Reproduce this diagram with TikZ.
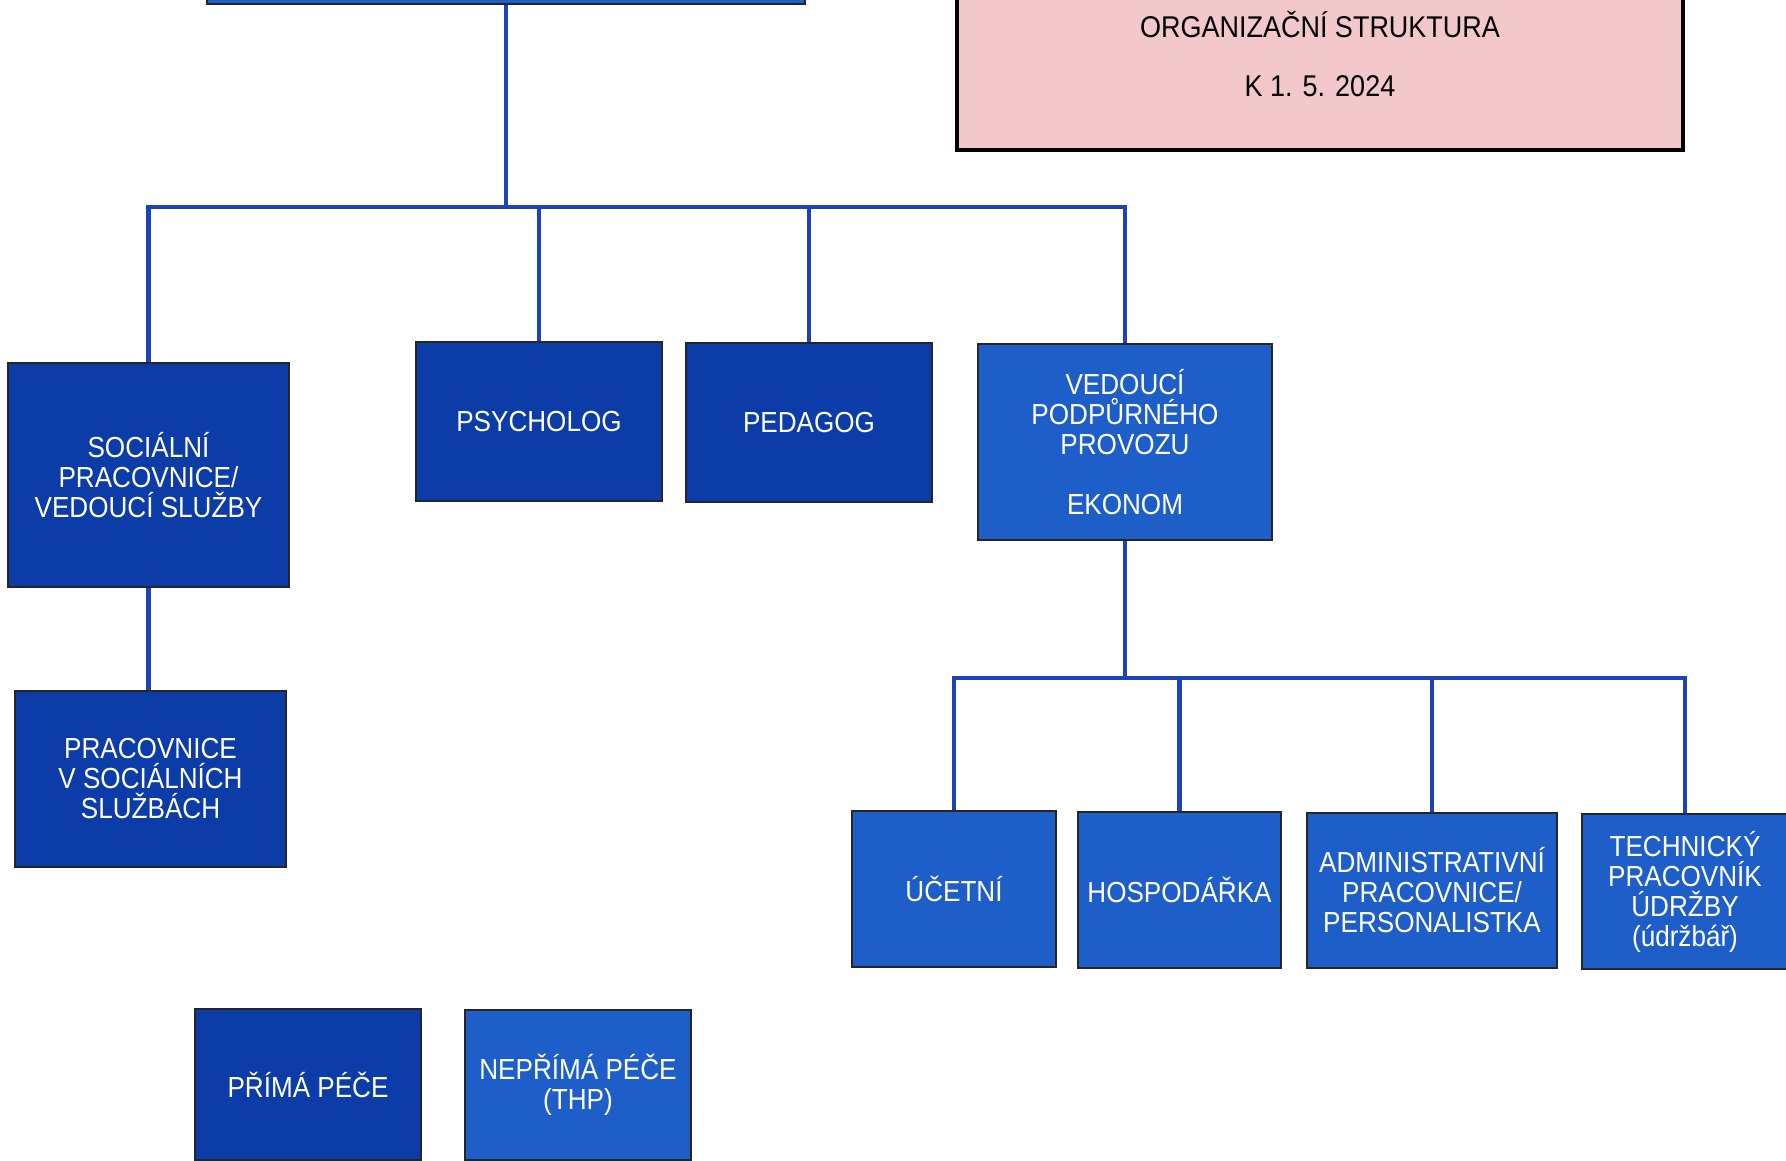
\documentclass[tikz,border=0pt]{standalone}
\usepackage{tikz}
\usepackage{xcolor}
\usepackage{fontspec}
\setmainfont{Liberation Sans}[FakeStretch=0.9]
\definecolor{darkunit}{RGB}{12,60,168}
\definecolor{lightunit}{RGB}{30,94,200}
\definecolor{linkblue}{RGB}{28,68,184}
\definecolor{titlepink}{RGB}{242,200,203}

\begin{document}
\begin{tikzpicture}[x=1pt,y=-1pt,
    unit/.style={draw=black!85,line width=1.8pt,text=white,align=center,
      inner sep=2pt,font=\fontsize{29}{30}\selectfont},
    dunit/.style={unit,fill=darkunit},
    lunit/.style={unit,fill=lightunit},
    link/.style={draw=linkblue,line width=4.5pt}]
  \useasboundingbox (0,0) rectangle (1786,1160);

  \node[draw=black,line width=4pt,fill=titlepink,minimum width=726,minimum height=210]
    (ttlbox) at (1320,45) {};
  \node[font=\fontsize{30}{32}\selectfont,align=center] (ttl) at (1320,54)
    {ORGANIZAČNÍ STRUKTURA\\[27pt]K 1. 5. 2024};

  \node[lunit,minimum width=598,minimum height=64] (top) at (506,-28) {};

  \node[dunit,minimum width=281,minimum height=224] (soc) at (148.5,475)
    {SOCIÁLNÍ\\PRACOVNICE/\\VEDOUCÍ SLUŽBY};
  \node[dunit,minimum width=246,minimum height=159] (psy) at (539,421.5) {PSYCHOLOG};
  \node[dunit,minimum width=246,minimum height=159] (ped) at (809,422.5) {PEDAGOG};
  \node[lunit,minimum width=294,minimum height=196] (ved) at (1125,442)
    {VEDOUCÍ\\PODPŮRNÉHO\\PROVOZU\\[30pt]EKONOM};
  \node[dunit,minimum width=271,minimum height=176] (prac) at (150.5,779)
    {PRACOVNICE\\V SOCIÁLNÍCH\\SLUŽBÁCH};

  \node[lunit,minimum width=204,minimum height=156] (uce) at (954,889) {ÚČETNÍ};
  \node[lunit,minimum width=203,minimum height=156] (hos) at (1179.5,890) {HOSPODÁŘKA};
  \node[lunit,minimum width=250,minimum height=155] (adm) at (1432,890.5)
    {ADMINISTRATIVNÍ\\PRACOVNICE/\\PERSONALISTKA};
  \node[lunit,minimum width=206,minimum height=155] (tech) at (1685,891.5)
    {TECHNICKÝ\\PRACOVNÍK\\ÚDRŽBY\\(údržbář)};

  \node[dunit,minimum width=226,minimum height=151] (prima) at (308,1084.5) {PŘÍMÁ PÉČE};
  \node[lunit,minimum width=226,minimum height=150] (neprima) at (578,1085)
    {NEPŘÍMÁ PÉČE\\(THP)};

  \coordinate (bus1) at (506,207);
  \coordinate (bus2) at (1125,678);
  \draw[link] (top.south) -- (top.south |- bus1);
  \draw[link] (soc.north) |- (ved.north |- bus1) -- (ved.north);
  \draw[link] (psy.north) -- (psy.north |- bus1);
  \draw[link] (ped.north) -- (ped.north |- bus1);
  \draw[link] (soc.south) -- (soc.south |- prac.north);
  \draw[link] (ved.south) -- (ved.south |- bus2);
  \draw[link] (uce.north) |- (tech.north |- bus2) -- (tech.north);
  \draw[link] (hos.north) -- (hos.north |- bus2);
  \draw[link] (adm.north) -- (adm.north |- bus2);
\end{tikzpicture}
\end{document}
